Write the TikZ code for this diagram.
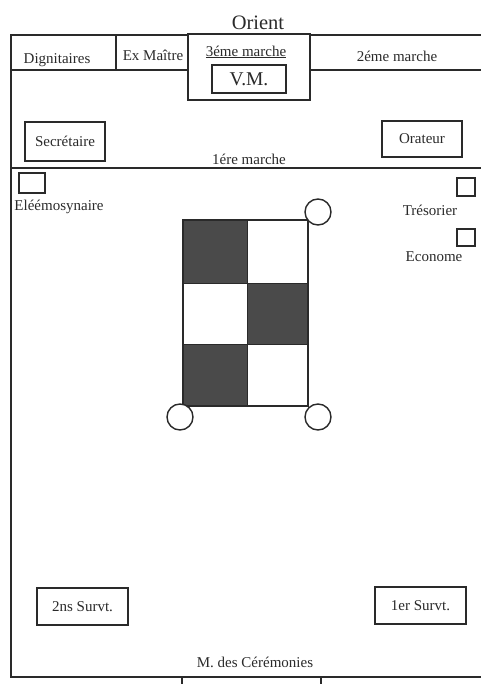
\documentclass[tikz,border=0pt]{standalone}
\usepackage{fontspec}
\setmainfont{Liberation Serif}
\definecolor{ink}{HTML}{2A2A2A}
\definecolor{dark}{HTML}{4A4A4A}
\tikzset{
  frameline/.style={draw=ink, line width=1.6pt},
  seat/.style={draw=ink, line width=1.8pt, fill=white, inner sep=0pt, font=\fontsize{15}{17}\selectfont, text=ink},
  lbl/.style={inner sep=0pt, font=\fontsize{15}{17}\selectfont, text=ink},
  corner/.style={circle, draw=ink, line width=1.4pt, fill=white, minimum size=26pt, inner sep=0pt},
}
\begin{document}
\begin{tikzpicture}[x=1pt,y=-1pt]
\useasboundingbox (0,0) rectangle (480,684);
% outer frame (cut at right edge)
\coordinate (tl) at (11,35);
\coordinate (tr) at (482,35);
\coordinate (bl) at (11,677);
\coordinate (br) at (482,677);
\draw[frameline] (tr) -- (tl) -- (bl) -- (br);
% row lines
\draw[frameline] (11,70) -- (482,70);
\draw[frameline] (11,168) -- (482,168);
\draw[frameline] (116,35) -- (116,70);
% tabs below
\draw[frameline] (182,677) -- (182,686);
\draw[frameline] (321,677) -- (321,686);
% 3eme marche box
\node[seat, minimum width=122pt, minimum height=66pt] (m3) at (249,67) {};
\node[lbl] (m3t) at (246,52) {\underline{3éme marche}};
\node[seat, minimum width=74pt, minimum height=28pt, font=\fontsize{19.5}{22}\selectfont] (vm) at (249,79) {V.M.};
% titles
\node[lbl, font=\fontsize{20.5}{23}\selectfont] (orient) at (258,23) {Orient};
\node[lbl] (dign) at (57,60) {Dignitaires};
\node[lbl] (exm) at (153,55) {Ex Maître};
\node[lbl] (m2) at (397,56) {2éme marche};
\node[lbl] (m1) at (249,159) {1ére marche};
% seats
\node[seat, minimum width=80pt, minimum height=39pt] (sec) at (65,141.5) {Secrétaire};
\node[seat, minimum width=80pt, minimum height=36pt] (ora) at (422,139) {Orateur};
\node[seat, minimum width=26pt, minimum height=20pt] (elsq) at (32,183) {};
\node[lbl] (el) at (59,207) {Eléémosynaire};
\node[seat, minimum width=18pt, minimum height=18pt] (trsq) at (466,187) {};
\node[lbl] (tr) at (430,210) {Trésorier};
\node[seat, minimum width=18pt, minimum height=17pt] (ecsq) at (466,237.5) {};
\node[lbl] (ec) at (434,257) {Econome};
\node[seat, minimum width=91pt, minimum height=37pt] (s2) at (82.5,606.5) {2ns Survt.};
\node[seat, minimum width=91pt, minimum height=37pt] (s1) at (420.5,605.5) {1er Survt.};
\node[lbl] (mc) at (255,662) {M. des Cérémonies};
% checkerboard
\fill[dark] (183,220) rectangle (247,283);
\fill[dark] (247,283) rectangle (308,344);
\fill[dark] (183,344) rectangle (247,406);
\draw[ink, line width=1.2pt] (183,220) rectangle (308,406);
\draw[ink, line width=0.6pt] (247,220) -- (247,406);
\draw[ink, line width=0.6pt] (183,283) -- (308,283);
\draw[ink, line width=0.6pt] (183,344) -- (308,344);
\node[corner] (c1) at (318,212) {};
\node[corner] (c2) at (180,417) {};
\node[corner] (c3) at (318,417) {};
\end{tikzpicture}
\end{document}
